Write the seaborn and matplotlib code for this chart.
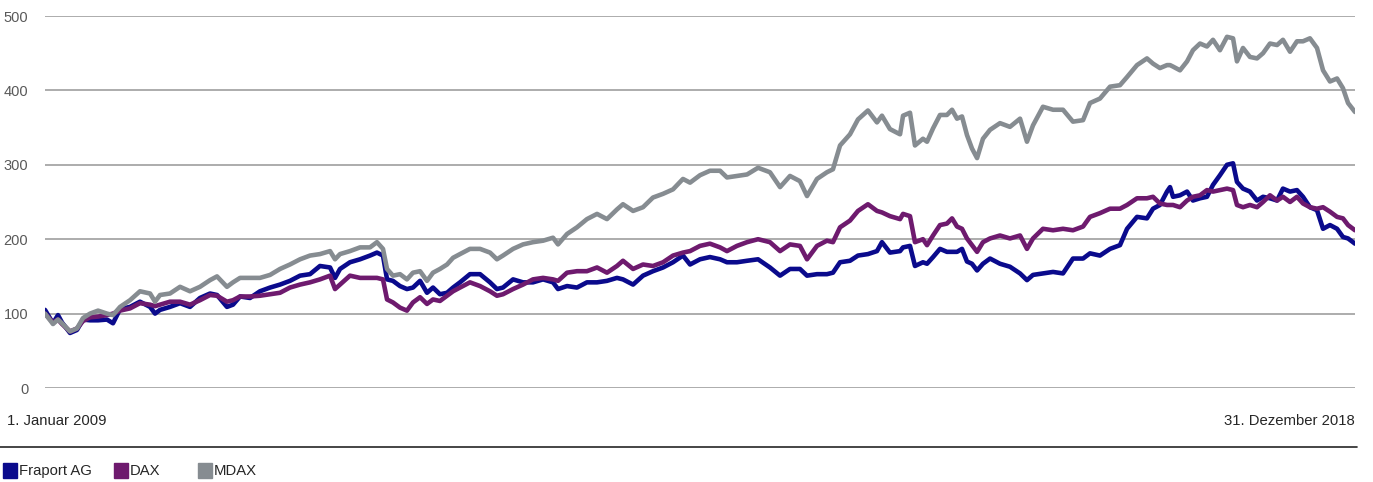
import pandas as pd
import seaborn as sns
import matplotlib.pyplot as plt
from matplotlib.patches import Rectangle
from matplotlib.lines import Line2D

# Zeitachse als Dezimaljahr (1. Januar 2009 bis 31. Dezember 2018)
jahr = [
    2009.000, 2009.061, 2009.099, 2009.130, 2009.191, 2009.244, 2009.290, 2009.344, 2009.405, 2009.473,
    2009.519, 2009.573, 2009.649, 2009.725, 2009.802, 2009.840, 2009.878, 2009.954, 2010.031, 2010.107,
    2010.183, 2010.260, 2010.313, 2010.389, 2010.435, 2010.489, 2010.565, 2010.641, 2010.718,
    2010.794, 2010.870, 2010.947, 2011.023, 2011.099, 2011.176, 2011.214, 2011.252, 2011.328, 2011.405,
    2011.481, 2011.534, 2011.580, 2011.611, 2011.656, 2011.710, 2011.763, 2011.809, 2011.863, 2011.916,
    2011.962, 2012.015, 2012.069, 2012.115, 2012.168, 2012.244, 2012.321, 2012.397,
    2012.450, 2012.496, 2012.573, 2012.649, 2012.725, 2012.802, 2012.878, 2012.916, 2012.985, 2013.061,
    2013.137, 2013.214, 2013.290, 2013.366, 2013.412, 2013.489, 2013.565, 2013.641, 2013.718, 2013.794,
    2013.870, 2013.924, 2014.000,
    2014.076, 2014.153, 2014.206, 2014.282, 2014.359, 2014.443, 2014.534, 2014.611, 2014.687, 2014.763,
    2014.817, 2014.893, 2014.969, 2015.015, 2015.069, 2015.145, 2015.206, 2015.282, 2015.351, 2015.389,
    2015.450, 2015.527, 2015.550, 2015.603, 2015.641, 2015.702,
    2015.733, 2015.779, 2015.832, 2015.885, 2015.924, 2015.962, 2016.000, 2016.038, 2016.076, 2016.115,
    2016.160, 2016.214, 2016.290, 2016.366, 2016.443, 2016.496, 2016.542, 2016.618, 2016.695, 2016.771,
    2016.847, 2016.924, 2016.977, 2017.053, 2017.130, 2017.206, 2017.260, 2017.336,
    2017.412, 2017.458, 2017.511, 2017.565, 2017.588, 2017.611, 2017.664, 2017.718, 2017.763, 2017.817,
    2017.870, 2017.916, 2017.969, 2018.023, 2018.069, 2018.099, 2018.145, 2018.198, 2018.252, 2018.298,
    2018.351, 2018.405, 2018.450, 2018.504, 2018.557, 2018.603, 2018.656, 2018.710, 2018.756, 2018.809,
    2018.863, 2018.908, 2018.947, 2019.000,
]

fraport = [
    105, 87, 98, 88, 74, 78, 92, 91, 91, 92, 87, 106, 109, 116, 109, 100, 105, 109, 114, 109,
    121, 127, 125, 109, 112, 123, 121, 130, 135,
    139, 144, 151, 153, 164, 162, 148, 160, 169, 173, 178, 182, 178, 146, 144, 137, 133, 135, 144, 128,
    135, 126, 128, 135, 142, 153, 153, 142,
    133, 135, 146, 142, 142, 146, 142, 133, 137, 135, 142, 142, 144, 148, 146, 139, 151, 157, 162, 169,
    178, 166, 173,
    176, 173, 169, 169, 171, 173, 162, 151, 160, 160, 151, 153, 153, 155, 169, 171, 178, 180, 184, 196,
    182, 184, 189, 191, 164, 169,
    167, 176, 187, 183, 183, 183, 187, 170, 167, 158, 167, 174, 167, 163, 154, 145, 152, 154, 156, 154,
    174, 174, 181, 178, 187, 192, 214, 230,
    228, 241, 246, 264, 270, 257, 259, 264, 252, 255, 257, 273, 286, 300, 302, 277, 268, 264, 252, 257,
    255, 252, 268, 264, 266, 257, 243, 239, 214, 219, 214, 203, 201, 194,
]

dax = [
    100, 88, 92, 86, 76, 80, 90, 95, 96, 98, 100, 104, 107, 114, 112, 110, 112, 116, 116, 112,
    118, 125, 124, 116, 118, 123, 123, 124, 126,
    128, 135, 139, 142, 146, 151, 133, 139, 151, 148, 148, 148, 146, 119, 115, 108, 104, 115, 122, 113,
    119, 117, 124, 130, 135, 142, 137, 130,
    124, 126, 133, 139, 146, 148, 146, 144, 155, 157, 157, 162, 155, 164, 171, 160, 166, 164, 169, 178,
    182, 184, 191,
    194, 189, 184, 191, 196, 200, 196, 184, 193, 191, 173, 191, 198, 196, 216, 225, 238, 247, 238, 236,
    231, 227, 234, 231, 196, 200,
    192, 205, 219, 221, 228, 217, 214, 201, 192, 183, 196, 201, 205, 201, 205, 187, 201, 214, 212, 214,
    212, 217, 230, 235, 241, 241, 246, 255,
    255, 257, 248, 246, 246, 246, 243, 252, 257, 259, 266, 264, 266, 268, 266, 246, 243, 246, 243, 250,
    259, 252, 257, 250, 257, 248, 243, 241, 243, 237, 230, 228, 219, 212,
]

mdax = [
    100, 86, 92, 87, 76, 80, 94, 100, 104, 100, 98, 109, 118, 130, 127, 116, 125, 127, 136, 130,
    136, 145, 150, 136, 142, 148, 148, 148, 152,
    160, 166, 173, 178, 180, 184, 173, 180, 184, 189, 189, 196, 187, 160, 151, 153, 146, 155, 157, 144,
    155, 160, 166, 175, 180, 187, 187, 182,
    173, 178, 187, 193, 196, 198, 202, 193, 207, 216, 227, 234, 227, 240, 247, 238, 243, 256, 261, 267,
    281, 276, 286,
    292, 292, 283, 285, 287, 296, 290, 270, 285, 278, 258, 281, 290, 294, 326, 341, 361, 373, 357, 366,
    348, 341, 366, 370, 326, 335,
    331, 349, 367, 367, 374, 362, 365, 340, 322, 309, 335, 347, 356, 351, 362, 331, 353, 378, 374, 374,
    358, 360, 383, 389, 405, 407, 418, 434,
    443, 436, 430, 434, 434, 432, 427, 439, 454, 463, 459, 468, 454, 472, 470, 439, 457, 445, 443, 450,
    463, 461, 468, 452, 466, 466, 470, 457, 427, 412, 416, 403, 383, 371,
]

serien = ["Fraport AG", "DAX", "MDAX"]
farben = {"Fraport AG": "#0a0a8c", "DAX": "#6e1a6e", "MDAX": "#868c91"}
y_ticks = [0, 100, 200, 300, 400, 500]

df = pd.DataFrame({
    "Jahr": jahr * 3,
    "Wert": fraport + dax + mdax,
    "Serie": ["Fraport AG"] * len(jahr) + ["DAX"] * len(jahr) + ["MDAX"] * len(jahr),
})

sns.set_style("white")
plt.rcParams["font.family"] = ["Liberation Sans", "DejaVu Sans"]

W, H = 1373, 482
fig = plt.figure(figsize=(W / 100, H / 100), dpi=100)
ax = fig.add_axes([45 / W, 1 - 388 / H, 1310 / W, 372 / H])

sns.lineplot(data=df, x="Jahr", y="Wert", hue="Serie", hue_order=serien, palette=farben,
             sort=False, estimator=None, linewidth=3.3, legend=False, ax=ax,
             solid_joinstyle="round", solid_capstyle="round")

ax.set_xlim(2009.0, 2019.0)
ax.set_ylim(0, 500)
ax.set_yticks(y_ticks)
ax.set_yticklabels([str(t) for t in y_ticks])
ax.set_xticks([])
ax.set_xlabel("")
ax.set_ylabel("")
ax.tick_params(axis="y", length=0, pad=12, labelsize=10.5, labelcolor="#595959")
ax.yaxis.grid(True, color="#a6a6a6", linewidth=1.3)
ax.set_axisbelow(True)
sns.despine(ax=ax, left=True, bottom=True)

# Datumsbeschriftung unten
fig.text(7 / W, 1 - 421 / H, "1. Januar 2009", ha="left", va="center", fontsize=10.7, color="#262626")
fig.text(1355 / W, 1 - 421 / H, "31. Dezember 2018", ha="right", va="center", fontsize=10.7, color="#262626")

# Trennlinie
fig.add_artist(Line2D([0, 1357 / W], [1 - 447 / H, 1 - 447 / H], color="#262626", linewidth=1.2,
                      transform=fig.transFigure))

# Legende
leg_x = [3, 114, 198]
for s, lx in zip(serien, leg_x):
    fig.add_artist(Rectangle((lx / W, 1 - 478 / H), 14 / W, 15 / H, color=farben[s],
                             transform=fig.transFigure))
    fig.text((lx + 16) / W, 1 - 471 / H, s, ha="left", va="center", fontsize=10.7, color="#262626")

fig.savefig("out.png", dpi=100)
